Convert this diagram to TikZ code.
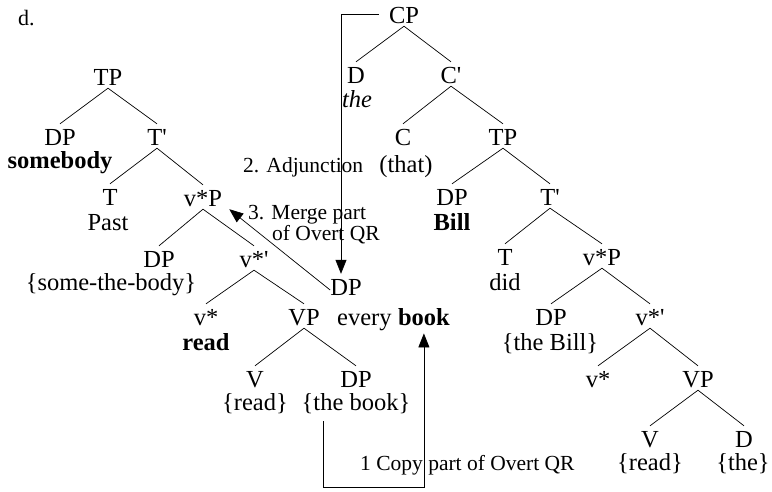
\documentclass[tikz,border=0pt]{standalone}
\usepackage{fontspec}
\setmainfont{Liberation Serif}
\newfontfamily\plainfont{Liberation Serif}
\usetikzlibrary{arrows.meta}
\newcommand{\treefont}{\fontsize{24.5}{25}\selectfont}
\newcommand{\notefont}{\fontsize{21.5}{22}\selectfont}
% straight prime for bar-level labels
\newcommand{\prm}{{\plainfont\char"27}}
\begin{document}
\begin{tikzpicture}[x=1pt,y=-1pt,
  cat/.style={inner sep=0pt, text height=21pt, text depth=3pt, anchor=base, font=\treefont},
  word/.style={inner sep=0pt, anchor=base, font=\treefont},
  note/.style={inner sep=0pt, anchor=base west, font=\notefont},
  limb/.style={line width=0.7pt},
  qrarrow/.style={line width=0.7pt, -{Triangle[length=14pt,width=11pt]}}]
\useasboundingbox (0,0) rectangle (772,491);

\node[inner sep=0pt, anchor=base west, font=\fontsize{22}{24}\selectfont] (label) at (18,25) {d.};

% ---- left tree: the matrix clause ----
\node[cat] (lTP) at (108,85) {TP};
\node[cat] (lDP) at (60,145) {DP};
\node[word] (wsomebody) at (60,168) {\textbf{somebody}};
\node[cat] (lTb) at (157,145) {T\prm};
\node[cat] (lT) at (110,205) {T};
\node[word] (wpast) at (108,230) {Past};
\node[cat] (lvP) at (203,206) {v*P};
\node[cat] (lDP2) at (159,267) {DP};
\node[word] (wsome) at (111,290) {\{some-the-body\}};
\node[cat] (lvb) at (254,267) {v*\prm};
\node[cat] (lvs) at (206,325) {v*};
\node[word] (wread) at (206,350) {\textbf{read}};
\node[cat] (lVP) at (304,325) {VP};
\node[cat] (lV) at (255,387) {V};
\node[word] (wreadV) at (255,410) {\{read\}};
\node[cat] (lDP3) at (356,387) {DP};
\node[word] (lthebook) at (356,410) {\{the book\}};

\draw[limb] (lTP.south) -- (lDP.north);
\draw[limb] (lTP.south) -- (lTb.north);
\draw[limb] (lTb.south) -- (lT.north);
\draw[limb] (lTb.south) -- (lvP.north);
\draw[limb] (lvP.south) -- (lDP2.north);
\draw[limb] (lvP.south) -- (lvb.north);
\draw[limb] (lvb.south) -- (lvs.north);
\draw[limb] (lvb.south) -- (lVP.north);
\draw[limb] (lVP.south) -- (lV.north);
\draw[limb] (lVP.south) -- (lDP3.north);

% ---- the raised quantifier phrase ----
\node[cat] (qDP) at (346,295) {DP};
\node[word, anchor=base west] (every) at (337,325) {every};
\node[word, anchor=base west] (book) at ([xshift=6pt]every.base east) {\textbf{book}};

% ---- right tree: the relative clause ----
\node[cat] (rCP) at (404,23) {CP};
\node[cat] (rD) at (356,83) {D};
\node[word] (wthe) at (357,107) {\textit{the}};
\node[cat] (rCb) at (451,83) {C\prm};
\node[cat] (rC) at (403,145) {C};
\node[word] (wthat) at (406,172) {(that)};
\node[cat] (rTP) at (503,145) {TP};
\node[cat] (rDP) at (452,205) {DP};
\node[word] (wbill) at (452,230) {\textbf{Bill}};
\node[cat] (rTb) at (550,205) {T\prm};
\node[cat] (rT) at (505,265) {T};
\node[word] (wdid) at (505,290) {did};
\node[cat] (rvP) at (602,265) {v*P};
\node[cat] (rDP2) at (551,325) {DP};
\node[word] (wthebill) at (550,350) {\{the Bill\}};
\node[cat] (rvb) at (650,325) {v*\prm};
\node[cat] (rvs) at (598,387) {v*};
\node[cat] (rVP) at (698,387) {VP};
\node[cat] (rV) at (650,447) {V};
\node[word] (wread2) at (650,470) {\{read\}};
\node[cat] (rD2) at (744,447) {D};
\node[word] (wthe2) at (743,470) {\{the\}};

\draw[limb] (rCP.south) -- (rD.north);
\draw[limb] (rCP.south) -- (rCb.north);
\draw[limb] (rCb.south) -- (rC.north);
\draw[limb] (rCb.south) -- (rTP.north);
\draw[limb] (rTP.south) -- (rDP.north);
\draw[limb] (rTP.south) -- (rTb.north);
\draw[limb] (rTb.south) -- (rT.north);
\draw[limb] (rTb.south) -- (rvP.north);
\draw[limb] (rvP.south) -- (rDP2.north);
\draw[limb] (rvP.south) -- (rvb.north);
\draw[limb] (rvb.south) -- (rvs.north);
\draw[limb] (rvb.south) -- (rVP.north);
\draw[limb] (rVP.south) -- (rV.north);
\draw[limb] (rVP.south) -- (rD2.north);

% ---- movement steps ----
\node[note] (n1) at (360,470) {1 Copy part of Overt QR};
\node[note] (n2) at (243,172) {2. Adjunction};
\node[note] (n3a) at (248,219) {3. Merge part};
\node[note] (n3b) at (272,240) {of Overt QR};

\draw[qrarrow] ([xshift=-33pt,yshift=-8pt]lthebook.south) -- ++(0,66) -| ([yshift=-8pt]book.south);
\draw[qrarrow] ([xshift=-10pt]rCP.west) -| ([xshift=-5pt]qDP.north);
\draw[qrarrow] ([yshift=-4pt]qDP.west) -- ([xshift=7pt]lvP.south east);
\end{tikzpicture}
\end{document}
